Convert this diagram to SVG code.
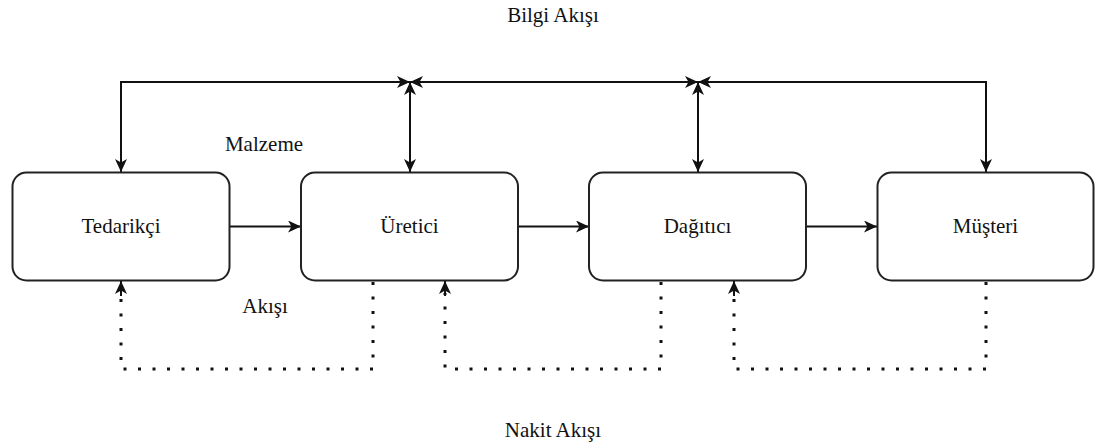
<svg xmlns="http://www.w3.org/2000/svg" width="1096" height="448" viewBox="0 0 1096 448">
<style>
.box{fill:#fff;stroke:#222;stroke-width:2}
.t{font-family:"Liberation Serif","Times New Roman",serif;font-size:21px;fill:#111;text-anchor:middle}
.c{fill:none;stroke:#111;stroke-width:2}
.d{fill:none;stroke:#111;stroke-width:3;stroke-dasharray:3 11.5}
</style>
<defs>
<marker id="ar" viewBox="0 0 13 12" refX="13" refY="6" markerWidth="13" markerHeight="12" markerUnits="userSpaceOnUse" orient="auto-start-reverse">
<path d="M0,0 L13,6 L0,12 L3.5,6 Z" fill="#111"/>
</marker>
</defs>
<rect width="1096" height="448" fill="#fff"/>
<g id="connectors">
<path class="c" d="M121,172 V82 H410" marker-start="url(#ar)" marker-end="url(#ar)"/>
<path class="c" d="M410,172 V82" marker-start="url(#ar)" marker-end="url(#ar)"/>
<path class="c" d="M410,82 H698" marker-start="url(#ar)" marker-end="url(#ar)"/>
<path class="c" d="M698,172 V82" marker-start="url(#ar)" marker-end="url(#ar)"/>
<path class="c" d="M986,172 V82 H698" marker-start="url(#ar)" marker-end="url(#ar)"/>
<path class="c" d="M230,226.5 H301" marker-end="url(#ar)"/>
<path class="c" d="M518,226.5 H589" marker-end="url(#ar)"/>
<path class="c" d="M806,226.5 H877" marker-end="url(#ar)"/>
<path class="d" d="M373,282 V369 H121 V293"/>
<path class="c" d="M121,296 V281" marker-end="url(#ar)"/>
<path class="d" d="M661,282 V369 H445 V293"/>
<path class="c" d="M445,296 V281" marker-end="url(#ar)"/>
<path class="d" d="M986,282 V369 H734 V293"/>
<path class="c" d="M734,296 V281" marker-end="url(#ar)"/>
</g>
<g id="tedarikci"><rect class="box" x="12.5" y="172.5" width="217" height="108" rx="14"/><text class="t" x="121" y="233">Tedarikçi</text></g>
<g id="uretici"><rect class="box" x="301" y="172.5" width="217" height="108" rx="14"/><text class="t" x="409.5" y="233">Üretici</text></g>
<g id="dagitici"><rect class="box" x="589" y="172.5" width="217" height="108" rx="14"/><text class="t" x="697.5" y="233">Dağıtıcı</text></g>
<g id="musteri"><rect class="box" x="877.5" y="172.5" width="216" height="108" rx="14"/><text class="t" x="985.5" y="233">Müşteri</text></g>
<g id="labels">
<text class="t" x="553" y="22">Bilgi Akışı</text>
<text class="t" x="264" y="151">Malzeme</text>
<text class="t" x="265" y="313">Akışı</text>
<text class="t" x="553" y="437">Nakit Akışı</text>
</g>
</svg>
